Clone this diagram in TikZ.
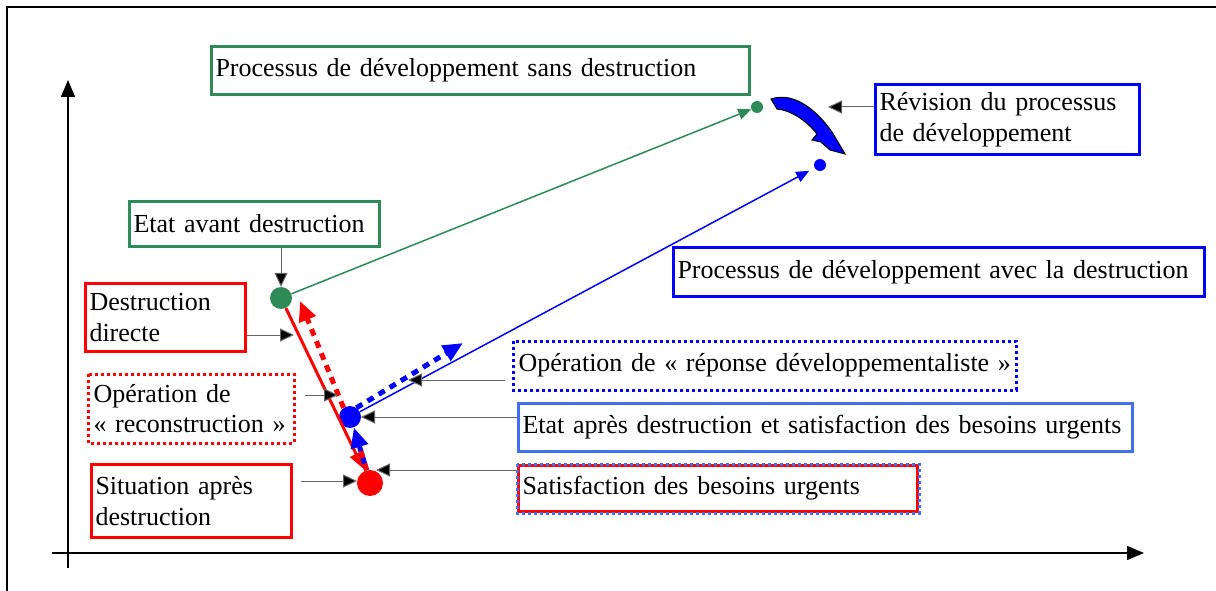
\documentclass[tikz,border=0pt]{standalone}
\usepackage{fontspec}
\setmainfont{Liberation Serif}
\usetikzlibrary{arrows.meta}

\definecolor{vert}{RGB}{46,139,87}
\definecolor{bleuclair}{RGB}{66,110,240}

\tikzset{
  etiq/.style={draw, line width=3pt, anchor=north west, align=left,
    inner xsep=4pt, inner ysep=2pt, font=\fontsize{26}{30.5}\selectfont},
  pointill/.style={line width=3pt, dash pattern=on 3pt off 3pt},
  renvoi/.style={draw=black!60, line width=1pt, -{Triangle[length=14pt,width=13pt,fill=black]}},
  point/.style={circle, inner sep=0pt},
  epais/.style={line width=5pt, dash pattern=on 7pt off 6pt},
  pointe/.style={-{Triangle[length=20pt,width=17pt]}}
}

\begin{document}
\begin{tikzpicture}[x=1pt,y=-1pt]
  \useasboundingbox (0,0) rectangle (1216,591);
  % cadre et axes
  \draw[line width=2pt] (7,591) -- (7,7) -- (1216,7);
  \coordinate (oy) at (68,568);
  \coordinate (hy) at (68,80);
  \coordinate (ox) at (52,553);
  \coordinate (hx) at (1144,553);
  \draw[line width=1.5pt, -{Triangle[length=17pt,width=14pt]}] (oy) -- (hy);
  \draw[line width=1.5pt, -{Triangle[length=17pt,width=14pt]}] (ox) -- (hx);

  % etats
  \node[point, fill=vert, minimum size=22pt] (avant) at (281,298) {};
  \node[point, fill=vert, minimum size=12pt] (sans) at (757,107) {};
  \node[point, fill=blue, minimum size=12pt] (avec) at (820,165) {};
  \node[point, fill=blue, minimum size=22pt] (apres) at (350,417) {};
  \node[point, fill=red, minimum size=26pt] (situ) at (370,483) {};

  % etiquettes
  \node[etiq, draw=vert, text width=530pt, minimum height=48pt] (psans) at (210,45)
    {Processus de développement sans destruction};
  \node[etiq, draw=blue, text width=256pt, minimum height=70pt] (revis) at (874,83)
    {Révision du processus\\de développement};
  \node[etiq, draw=vert, text width=242pt, minimum height=45pt] (lavant) at (128,200)
    {Etat avant destruction};
  \node[etiq, draw=blue, text width=523pt, minimum height=49pt] (pavec) at (672,246)
    {Processus de développement avec la destruction};
  \node[etiq, draw=red, text width=152pt, minimum height=68pt] (destr) at (84,282)
    {Destruction\\directe};
  \node[etiq, draw=none, text width=195pt, minimum height=66pt] (recon) at (88,374)
    {Opération de\\«~reconstruction~»};
  \draw[red, pointill] (recon.north west) rectangle (recon.south east);
  \node[etiq, draw=none, text width=492pt, minimum height=46pt] (repdev) at (513,341)
    {\mbox{Opération de «~réponse développementaliste~»}};
  \draw[blue, pointill] (repdev.north west) rectangle (repdev.south east);
  \node[etiq, draw=bleuclair, text width=606pt, minimum height=48pt] (letat) at (517,402)
    {Etat après destruction et satisfaction des besoins urgents};
  \node[etiq, draw=red, text width=391pt, minimum height=46pt] (satis) at (517,464)
    {Satisfaction des besoins urgents};
  \draw[bleuclair, pointill] (satis.north west) rectangle (satis.south east);
  \node[etiq, draw=red, text width=192pt, minimum height=73pt] (lsitu) at (90,463)
    {Situation après\\destruction};

  % processus
  \draw[vert, line width=1.5pt, -{Triangle[length=13pt,width=11pt]}] (avant) -- (sans);
  \draw[blue, line width=1.5pt, -{Triangle[length=13pt,width=11pt]}, shorten >=6pt] (apres) -- (avec);
  \draw[red, line width=3pt, -{Triangle[length=16pt,width=13pt]}, shorten >=3pt] (avant) -- (situ);
  \coordinate (brec) at (300,301);
  \draw[red, epais, pointe] (apres.125) -- (brec);
  \coordinate (brep) at (463,343);
  \draw[blue, epais, pointe] (apres.55) -- (brep);
  \draw[blue, line width=5pt, pointe] (situ.105) -- (apres.-70);
  \draw[red, epais, shorten >=20pt] (situ.105) -- (apres.-70);

  % revision
  \draw[black, line width=1pt, fill=blue] (771,99) .. controls (795,91) and (818,112) .. (832,132)
    .. controls (838,142) .. (845,154) -- (830,150) -- (821,142) -- (812,140) -- (817,134)
    .. controls (806,120) and (790,110) .. (777,109) -- cycle;

  % renvois
  \coordinate (c1) at (828,107);
  \draw[renvoi] (revis.west |- c1) -- (c1);
  \draw[renvoi] (lavant.south -| avant) -- (avant.north);
  \coordinate (c2) at (294,335);
  \draw[renvoi] (destr.east |- c2) -- (c2);
  \coordinate (c3) at (338,395);
  \draw[renvoi, shorten <=11pt] (recon.east |- c3) -- (c3);
  \coordinate (c4) at (408,380);
  \draw[renvoi, shorten <=8pt] (repdev.west |- c4) -- (c4);
  \coordinate (c5) at (361,417);
  \draw[renvoi] (letat.west |- c5) -- (c5);
  \coordinate (c6) at (376,470);
  \draw[renvoi] (satis.west |- c6) -- (c6);
  \coordinate (c7) at (357,481);
  \draw[renvoi, shorten <=8pt] (lsitu.east |- c7) -- (c7);
\end{tikzpicture}
\end{document}
